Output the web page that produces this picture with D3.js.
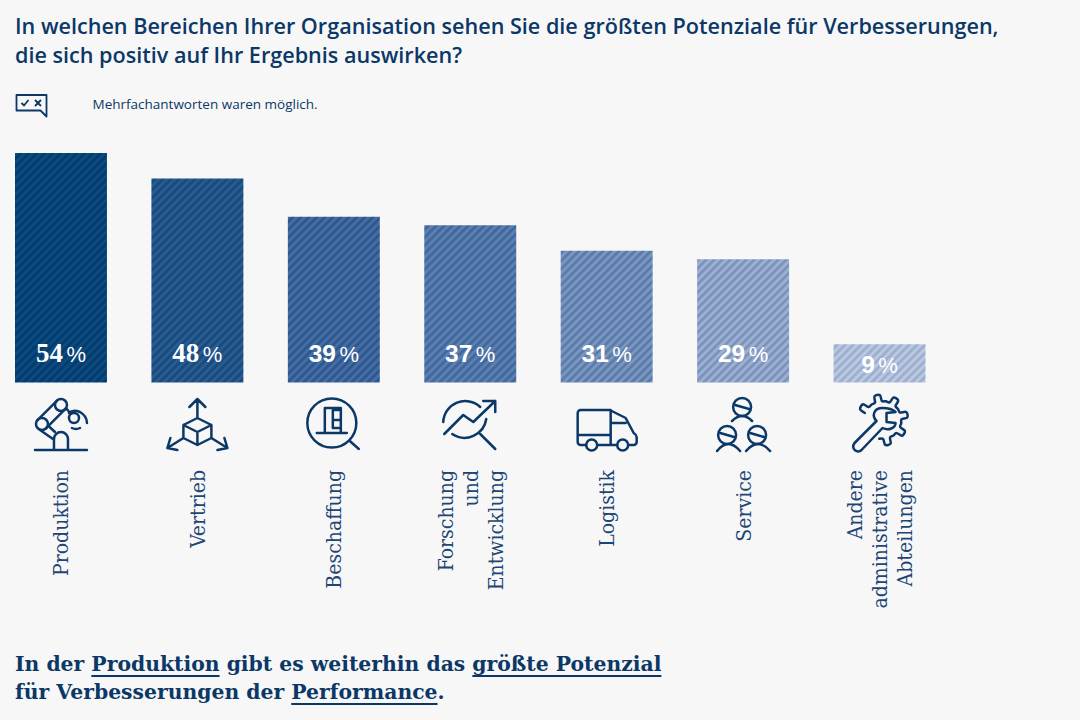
<!DOCTYPE html>
<html lang="de">
<head>
<meta charset="utf-8">
<script src="https://cdn.jsdelivr.net/npm/d3@7/dist/d3.min.js"></script>
<style>
  html, body { margin: 0; background: #f7f7f8; }
  svg { display: block; }
</style>
</head>
<body>
<svg id="chart" width="1080" height="720"></svg>
<script>
const categories = ["Produktion", "Vertrieb", "Beschaffung", "Forschung und Entwicklung", "Logistik", "Service", "Andere administrative Abteilungen"];
const categoryLines = [["Produktion"], ["Vertrieb"], ["Beschaffung"], ["Forschung", "und", "Entwicklung"], ["Logistik"], ["Service"], ["Andere", "administrative", "Abteilungen"]];
const values = [54, 48, 39, 37, 31, 29, 9];
const baseColors = ["#003c70", "#174b80", "#2c5891", "#40699f", "#5a7bab", "#7b94bf", "#9dafd0"];
const stripeColors = ["#0f4a7d", "#2b5c90", "#476da2", "#5d80b0", "#7c97be", "#9db0d0", "#bcc8df"];
const titleLines = ["In welchen Bereichen Ihrer Organisation sehen Sie die größten Potenziale für Verbesserungen,", "die sich positiv auf Ihr Ergebnis auswirken?"];
const noteText = "Mehrfachantworten waren möglich.";
const conclusionLines = [
  [["In der ", false], ["Produktion", true], [" gibt es weiterhin das ", false], ["größte Potenzial", true]],
  [["für Verbesserungen der ", false], ["Performance", true], [".", false]]
];

const INK = "#0b3866";
const svg = d3.select("#chart");
const x = d3.scaleBand().domain(categories).range([15, 925.5]).paddingInner(0.326);
const y = d3.scaleLinear().domain([0, 54]).range([382.5, 153]);

// diagonal hatch, one pattern per bar colour (8px horizontal repeat)
const hatchStep = 8 / Math.SQRT2;
const defs = svg.append("defs");
categories.forEach((c, i) => {
  const p = defs.append("pattern").attr("id", "hatch" + i)
    .attr("patternUnits", "userSpaceOnUse").attr("width", hatchStep).attr("height", hatchStep)
    .attr("patternTransform", "rotate(45)");
  p.append("rect").attr("width", hatchStep).attr("height", hatchStep).attr("fill", baseColors[i]);
  p.append("rect").attr("width", hatchStep / 2).attr("height", hatchStep).attr("fill", stripeColors[i]);
});

// heading
svg.append("g").selectAll("text").data(titleLines).join("text")
  .attr("x", 15).attr("y", (d, i) => 33.5 + i * 29.5)
  .attr("font-family", "'Open Sans'").attr("font-weight", 600).attr("font-size", 21.6)
  .attr("fill", INK).text(d => d);

// note with its speech-bubble icon
const note = svg.append("g");
note.append("path")
  .attr("d", "M16.500 95H46.500V116.500L40.500 110.500H16.500Z")
  .attr("fill", "none").attr("stroke", INK).attr("stroke-width", 1.8).attr("stroke-linejoin", "round");
note.append("path")
  .attr("d", "M21.500 103l2.500 2.500 4.500-5.500M35 100l6 6M41 100l-6 6")
  .attr("fill", "none").attr("stroke", INK).attr("stroke-width", 1.8);
note.append("text").attr("x", 92.5).attr("y", 108.5)
  .attr("font-family", "'Open Sans'").attr("font-size", 13.5).attr("fill", INK).text(noteText);

// bars
svg.append("g").selectAll("rect").data(values).join("rect")
  .attr("x", (d, i) => x(categories[i]))
  .attr("y", d => y(d))
  .attr("width", x.bandwidth())
  .attr("height", d => y(0) - y(d))
  .attr("fill", (d, i) => `url(#hatch${i})`);

// value labels: bold number, light percent sign
const valueLabels = svg.append("g").selectAll("text").data(values).join("text")
  .attr("x", (d, i) => x(categories[i]) + x.bandwidth() / 2)
  .attr("y", d => d < 15 ? y(0) - 10 : y(0) - 21)
  .attr("text-anchor", "middle").attr("fill", "#fff");
valueLabels.append("tspan")
  .attr("font-family", (d, i) => i < 2 ? "'Liberation Serif'" : "'Liberation Sans'")
  .attr("font-size", (d, i) => i < 2 ? 27 : 24.5)
  .attr("font-weight", 700).text(d => d);
valueLabels.append("tspan").attr("dx", 3.5).attr("font-family", "'Liberation Sans'").attr("font-size", 22).text("%");

// open gear outline around the wrench, from the lower edge round to the left
function gearOutline(cx, cy, rIn, rOut, teeth, fromDeg, toDeg) {
  const pts = [];
  const step = 360 / teeth;
  for (let a = fromDeg; a > toDeg; a -= step) {
    [[rIn, 0], [rIn, -0.26], [rOut, -0.36], [rOut, -0.64], [rIn, -0.74]].forEach(([r, f]) => {
      const t = (a + f * step) * Math.PI / 180;
      pts.push([cx + r * Math.cos(t), cy + r * Math.sin(t)]);
    });
  }
  return d3.line().curve(d3.curveCatmullRom.alpha(0.2))(pts);
}

// line-drawn category icons, local coordinates centred on each bar
const icons = [
  `<circle cx="0" cy="-10" r="6"/><circle cx="-19" cy="9" r="6"/><circle cx="13" cy="3" r="5"/>
   <path d="M-4.200 -14.200L-23.200 4.800M4.200 -5.800L-14.800 13.200M5 -7L9.500 -1.500M-21 15L-8 24M-13 10.500L-6 17"/>
   <path d="M-7 35V24a7 7 0 0 1 14 0V35M-26 35H26M8 -2Q12 -6 19 -3Q26 1 26 8M11 13Q15 15 19 13"/>`,
  `<path d="M0 -6L14 1V14L0 21L-14 14V1ZM-14 1L0 8L14 1M0 8V21M0 -6V-25M-8 -17L0 -25L8 -17M14 14L30 24M20 26L30 24L27 14M-14 14L-30 24M-20 26L-30 24L-27 14"/>`,
  `<circle cx="-2" cy="-2" r="24.500"/><path d="M16 16L25 24M-17 8H13M-9 8V-17H7V8M-1 -15H7M-1 -5H6M-1 3H7M-1 -15V3"/>`,
  `<path d="M-27 -3A22 22 0 0 1 10 -18M16 -6A22 22 0 0 1 -18 9M10 9L25 24M-26 9L-7 -10L3 -3L25 -24M13 -24H25V-13"/>`,
  `<path d="M-20.500 15H-26a3 3 0 0 1-3-3V-17a3 3 0 0 1 3-3H4V15H10.500M-9.500 15H4M21.500 15H27a3 3 0 0 0 3-3V7Q30 5 27 3L19 -12L5 -19M4 -7H19M-29 5H4"/>
   <circle cx="-15" cy="15" r="5.500"/><circle cx="16" cy="15" r="5.500"/>`,
  `<circle cx="-1" cy="-18" r="9"/><circle cx="-16" cy="10" r="9"/><circle cx="14" cy="10" r="9"/>
   <path d="M-8 -20L6 -16M-23 8L-9 12M7 8L21 12M-11 -4Q-1 -14 9 -4M-26 26Q-15 12 -3 26M3 26Q15 12 27 26"/>`,
  `<path d="${gearOutline(3, -3, 19, 25, 8, 100, -170)}"/>
   <path d="M3 -15C-6 -15 -8 -7 -3 -2L-25 20C-29 26 -22 31 -18 27L3 5C9 8 16 5 16 0L7 -1V-10L16 -11C13 -14 8 -15 3 -15Z"/>`
];
const iconY = [415, 424, 425, 425, 430, 425, 423];
svg.append("g").selectAll("g").data(icons).join("g")
  .attr("transform", (d, i) => `translate(${x(categories[i]) + x.bandwidth() / 2},${iconY[i]})`)
  .attr("fill", "none").attr("stroke", INK).attr("stroke-width", 2.5)
  .attr("stroke-linecap", "round").attr("stroke-linejoin", "round")
  .html(d => d);

// rotated category labels, read bottom to top and aligned at the top
const labelGroups = svg.append("g").selectAll("g").data(categoryLines).join("g")
  .attr("transform", (d, i) => `translate(${x(categories[i]) + x.bandwidth() / 2},470)`);
labelGroups.selectAll("text").data(d => d.map((t, k) => ({ t, k, n: d.length }))).join("text")
  .attr("transform", d => `translate(${(d.k - (d.n - 1) / 2) * 25 + 7.5},0) rotate(-90)`)
  .attr("text-anchor", "end")
  .attr("font-family", "'DejaVu Serif Condensed', 'DejaVu Serif'").attr("font-stretch", "condensed")
  .attr("font-size", 21).attr("fill", "#1d4674").text(d => d.t);

// closing statement with underlined keywords
const concl = svg.append("g");
conclusionLines.forEach((parts, i) => {
  const baseline = 671 + i * 28;
  const t = concl.append("text").attr("x", 15).attr("y", baseline)
    .attr("font-family", "'DejaVu Serif'").attr("font-weight", 700).attr("font-size", 20.35)
    .attr("fill", INK);
  parts.forEach(([s]) => t.append("tspan").text(s));
  let idx = 0;
  parts.forEach(([s, marked]) => {
    if (marked) {
      const node = t.node();
      const a = node.getStartPositionOfChar(idx).x;
      const b = node.getEndPositionOfChar(idx + s.length - 1).x;
      concl.append("line").attr("x1", a).attr("x2", b)
        .attr("y1", baseline + 5).attr("y2", baseline + 5)
        .attr("stroke", INK).attr("stroke-width", 1.8);
    }
    idx += s.length;
  });
});
</script>
</body>
</html>
